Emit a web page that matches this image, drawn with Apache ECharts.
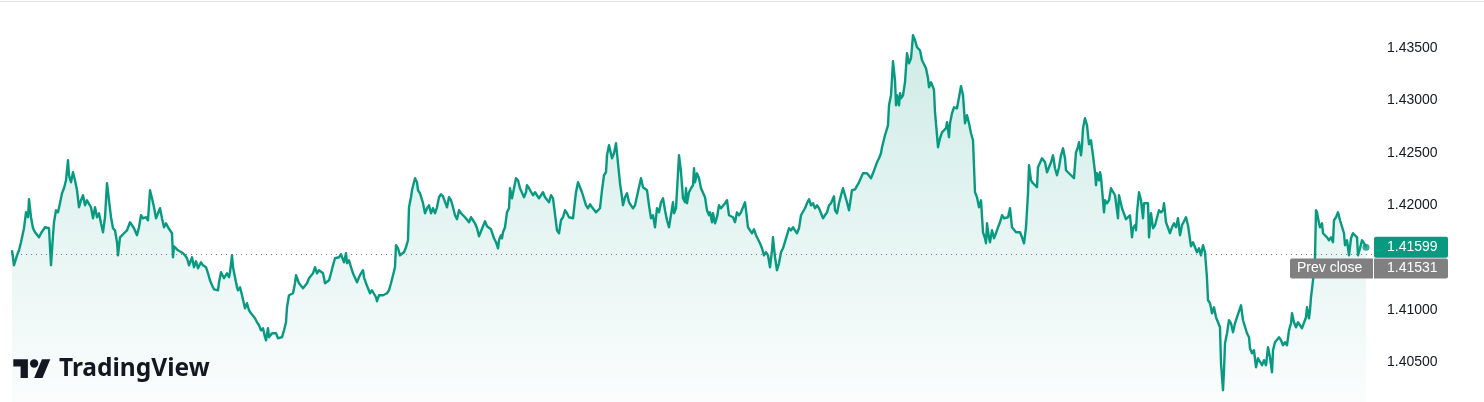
<!DOCTYPE html>
<html><head><meta charset="utf-8">
<script src="https://cdn.jsdelivr.net/npm/echarts@6/dist/echarts.min.js"></script>
<style>html,body{margin:0;padding:0;background:#ffffff;overflow:hidden}#chart{width:1484px;height:402px}</style>
</head><body><div id="chart"></div>
<script>
// [minute index, price]
const pricePoints = [
[0,1.41569],[2,1.41426],[5,1.41521],[7,1.41569],[9,1.41646],[11,1.41636],[12,1.41780],[14,1.41932],[16,1.41885],[17,1.42057],[19,1.41885],[21,1.41780],[23,1.41741],[25,1.41732],[27,1.41693],[29,1.41732],[31,1.41741],[33,1.41789],[35,1.41789],[37,1.41780],[39,1.41426],[41,1.41713],[42,1.41837],[44,1.41952],[46,1.41932],[48,1.42019],[50,1.42114],[52,1.42162],[54,1.42238],[56,1.42430],[57,1.42286],[59,1.42219],[61,1.42315],[63,1.42238],[65,1.42143],[67,1.41980],[69,1.42047],[71,1.42095],[73,1.41999],[75,1.42047],[77,1.42028],[79,1.41980],[81,1.41875],[83,1.41980],[85,1.41885],[87,1.41923],[89,1.41827],[91,1.41741],[93,1.41885],[95,1.42210],[97,1.42047],[99,1.41885],[101,1.41780],[103,1.41760],[105,1.41646],[106,1.41521],[108,1.41693],[110,1.41684],[112,1.41732],[115,1.41760],[118,1.41837],[120,1.41856],[122,1.41780],[125,1.41713],[127,1.41789],[129,1.41904],[131,1.41875],[134,1.41885],[136,1.41856],[138,1.42143],[140,1.42066],[142,1.41980],[144,1.41875],[146,1.41885],[148,1.41971],[150,1.41875],[152,1.41789],[154,1.41827],[156,1.41789],[158,1.41789],[160,1.41732],[161,1.41502],[162,1.41607],
[164,1.41607],[166,1.41569],[168,1.41588],[171,1.41541],[173,1.41521],[175,1.41493],[177,1.41426],[179,1.41474],[180,1.41502],[182,1.41407],[184,1.41464],[186,1.41397],[189,1.41454],[191,1.41426],[194,1.41407],[196,1.41349],[198,1.41282],[200,1.41235],[202,1.41196],[204,1.41206],[206,1.41187],[207,1.41263],[209,1.41359],[211,1.41359],[212,1.41302],[215,1.41349],[217,1.41311],[218,1.41359],[220,1.41521],[221,1.41407],[223,1.41311],[225,1.41215],[226,1.41187],[228,1.41215],[230,1.41139],[231,1.41158],[233,1.41015],[235,1.41063],[237,1.40996],[239,1.40967],[241,1.40948],[243,1.40919],[245,1.40881],[247,1.40852],[249,1.40804],[251,1.40824],[253,1.40738],[254,1.40709],[256,1.40824],[257,1.40738],[260,1.40776],[262,1.40785],[264,1.40776],[266,1.40728],[268,1.40738],[270,1.40738],[272,1.40804],[274,1.40881],[275,1.41024],[277,1.41139],[279,1.41120],[281,1.41158],[283,1.41254],[284,1.41330],[286,1.41311],[287,1.41254],[289,1.41235],[291,1.41206],[293,1.41215],[295,1.41254],[297,1.41302],[299,1.41311],[301,1.41349],[303,1.41407],[305,1.41349],[307,1.41378],[309,1.41397],[311,1.41349],[313,1.41254],[315,1.41263],[317,1.41282],[319,1.41349],[321,1.41426],[323,1.41493],[325,1.41474],[327,1.41502],[329,1.41531],[331,1.41541],
[332,1.41454],[334,1.41541],[335,1.41445],[337,1.41474],[339,1.41407],[341,1.41349],[343,1.41349],[345,1.41263],[347,1.41311],[349,1.41349],[351,1.41378],[352,1.41311],[354,1.41254],[356,1.41206],[358,1.41158],[360,1.41187],[362,1.41168],[364,1.41120],[365,1.41082],[367,1.41139],[369,1.41158],[371,1.41139],[373,1.41158],[375,1.41158],[377,1.41187],[379,1.41254],[381,1.41263],[383,1.41407],[384,1.41617],[386,1.41588],[388,1.41521],[390,1.41521],[392,1.41550],[394,1.41598],[396,1.41665],[397,1.41980],[399,1.42076],[400,1.42143],[401,1.42124],[403,1.42258],[405,1.42219],[406,1.42143],[408,1.42114],[410,1.42095],[411,1.42019],[413,1.41923],[415,1.41971],[417,1.41999],[419,1.41923],[421,1.41971],[423,1.41923],[425,1.41980],[427,1.42076],[429,1.42105],[431,1.42085],[433,1.42076],[435,1.41980],[437,1.42076],[439,1.42047],[441,1.41980],[443,1.41904],[445,1.41866],[447,1.41952],[449,1.41923],[451,1.41913],[453,1.41885],[455,1.41885],[457,1.41837],[459,1.41885],[461,1.41856],[463,1.41827],[465,1.41780],[467,1.41703],[469,1.41703],[471,1.41799],[473,1.41846],[475,1.41799],[477,1.41780],[479,1.41770],[481,1.41780],[482,1.41684],[484,1.41646],[486,1.41588],[487,1.41665],[489,1.41713],[490,1.41684],[491,1.41741],[493,1.41789],[495,1.41932],[497,1.41971],
[498,1.42162],[500,1.42066],[502,1.42162],[504,1.42258],[506,1.42238],[508,1.42162],[510,1.42143],[512,1.42076],[514,1.42124],[515,1.42191],[517,1.42162],[519,1.42172],[521,1.42095],[523,1.42124],[525,1.42095],[527,1.42066],[529,1.42095],[531,1.42124],[533,1.42076],[535,1.42085],[537,1.42028],[539,1.42095],[541,1.42066],[543,1.42047],[545,1.41760],[547,1.41732],[549,1.41856],[551,1.41885],[553,1.41952],[555,1.41923],[557,1.41885],[559,1.41885],[561,1.41875],[563,1.42047],[564,1.42124],[566,1.42219],[568,1.42172],[570,1.42124],[572,1.42143],[574,1.41999],[576,1.41971],[578,1.42009],[580,1.41980],[582,1.41961],[584,1.41932],[586,1.41913],[588,1.41971],[590,1.42143],[592,1.42286],[594,1.42315],[595,1.42477],[597,1.42573],[599,1.42583],[600,1.42449],[602,1.42497],[604,1.42592],[606,1.42401],[608,1.42210],[610,1.42076],[611,1.41999],[613,1.42076],[615,1.42114],[617,1.42028],[619,1.41999],[621,1.41971],[623,1.41999],[625,1.41980],[627,1.42172],[629,1.42258],[631,1.42172],[633,1.42191],[635,1.42143],[637,1.41999],[639,1.41875],[641,1.41904],[643,1.41789],[645,1.41971],[647,1.41932],[649,1.42028],[651,1.42066],[653,1.41952],[655,1.41856],[657,1.41789],[659,1.41780],[661,1.42028],[662,1.41923],[664,1.41971],[665,1.41952],[667,1.42477],[669,1.42315],[671,1.42066],[673,1.42028],[674,1.42162],[675,1.42019],[677,1.42124],[679,1.42162],[681,1.42191],[682,1.42353],[683,1.42219],[685,1.42305],[687,1.42258],[689,1.42162],[691,1.42162],[693,1.42076],[695,1.41952],[697,1.41904],[698,1.41932],[700,1.41837],[701,1.41923],[703,1.41827],[705,1.41885],[707,1.41999],[709,1.41971],[711,1.41971],[713,1.42019],[715,1.42047],[717,1.41904],[719,1.41923],[721,1.41885],[723,1.41837],[725,1.41932],[727,1.41904],[729,1.41932],[731,1.41980],[733,1.42028],[734,1.41952],[736,1.41789],[738,1.41760],[740,1.41732],[742,1.41770],[744,1.41713],[746,1.41732],[748,1.41636],[750,1.41588],[752,1.41521],[754,1.41550],[756,1.41521],[758,1.41407],[760,1.41569],[761,1.41693],[763,1.41502],[765,1.41378],[767,1.41445],[769,1.41550],[771,1.41588],[773,1.41598],[775,1.41713],[777,1.41780],[779,1.41760],[781,1.41789],[783,1.41760],[785,1.41732],[787,1.41780],[789,1.41904],[791,1.41923],[793,1.41971],[795,1.42019],[797,1.42057],[799,1.41999],[801,1.42019],[803,1.41971],[805,1.41999],[807,1.41971],[809,1.41990],[811,1.41875],[813,1.41904],[815,1.41932],[817,1.41999],[819,1.42019],[821,1.42019],[822,1.42085],[823,1.41952],[825,1.41923],[827,1.42019],[829,1.42095],[831,1.42162],[833,1.42095],[835,1.42028],[837,1.41952],
[840,1.42143],[843,1.42152],[845,1.42143],[847,1.42219],[849,1.42238],[851,1.42305],[853,1.42324],[855,1.42305],[857,1.42286],[859,1.42258],[861,1.42305],[863,1.42315],[865,1.42410],[867,1.42449],[869,1.42497],[870,1.42554],[872,1.42573],[873,1.42669],[875,1.42650],[876,1.42764],[877,1.42955],[879,1.43051],[880,1.43214],[881,1.43376],[883,1.43194],[884,1.42955],[885,1.43051],[887,1.42955],[888,1.43070],[889,1.43022],[891,1.43051],[892,1.43070],[893,1.43175],[895,1.43453],[896,1.43462],[897,1.43357],[899,1.43405],[900,1.43510],[901,1.43625],[903,1.43577],[904,1.43596],[905,1.43510],[907,1.43529],[908,1.43481],[910,1.43386],[912,1.43405],[914,1.43309],[916,1.43214],[917,1.43128],[919,1.43175],[921,1.43128],[922,1.43099],[923,1.42889],[925,1.42669],[926,1.42554],[928,1.42640],[930,1.42697],[932,1.42697],[934,1.42736],[935,1.42793],[937,1.42650],[938,1.42783],[940,1.42879],[942,1.42936],[944,1.42955],[945,1.42927],[947,1.43032],[949,1.43137],[951,1.43051],[953,1.42783],[955,1.42860],[957,1.42783],[959,1.42688],[961,1.42621],[963,1.42124],[965,1.42076],[967,1.41980],[969,1.42047],[971,1.41741],[973,1.41684],[974,1.41636],[975,1.41827],[977,1.41684],[978,1.41646],[980,1.41760],[982,1.41684],[984,1.41732],[986,1.41789],[988,1.41837],[990,1.41904],[992,1.41875],[994,1.41885],[996,1.41885],[998,1.41971],[1000,1.41789],[1002,1.41780],[1004,1.41741],[1006,1.41741],[1008,1.41741],[1010,1.41693],[1012,1.41636],
[1014,1.41789],[1016,1.42114],[1017,1.42382],[1019,1.42238],[1021,1.42210],[1023,1.42210],[1025,1.42172],[1026,1.42363],[1028,1.42382],[1030,1.42449],[1031,1.42458],[1033,1.42410],[1035,1.42315],[1037,1.42363],[1039,1.42410],[1041,1.42477],[1043,1.42353],[1045,1.42286],[1047,1.42363],[1049,1.42477],[1051,1.42544],[1053,1.42449],[1054,1.42334],[1056,1.42315],[1058,1.42296],[1060,1.42286],[1062,1.42258],[1064,1.42506],[1066,1.42554],[1067,1.42602],[1069,1.42477],[1070,1.42573],[1071,1.42736],[1073,1.42831],[1075,1.42764],[1076,1.42745],[1077,1.42583],[1079,1.42621],[1080,1.42544],[1081,1.42477],[1083,1.42315],[1084,1.42191],[1085,1.42305],[1087,1.42238],[1088,1.42315],[1089,1.42267],[1091,1.42047],[1092,1.41932],[1093,1.42047],[1095,1.42019],[1097,1.42047],[1099,1.42162],[1101,1.42172],[1103,1.42095],[1105,1.42076],[1106,1.41875],[1107,1.42095],[1109,1.42114],[1110,1.41971],[1112,1.41952],[1114,1.41866],[1116,1.41885],[1118,1.41904],[1120,1.41693],[1121,1.41780],[1123,1.41808],[1124,1.41760],[1125,1.41932],[1127,1.42124],[1129,1.42047],[1131,1.41875],[1132,1.42019],[1134,1.42019],[1136,1.42019],[1137,1.41693],[1139,1.41923],[1141,1.41780],[1143,1.41808],[1145,1.41789],[1147,1.41952],[1149,1.41932],[1151,1.41952],[1152,1.42019],[1154,1.41837],[1156,1.41827],[1158,1.41732],[1160,1.41789],[1162,1.41827],[1164,1.41789],[1166,1.41875],[1168,1.41713],[1170,1.41808],[1172,1.41789],[1174,1.41885],[1176,1.41808],[1178,1.41827],[1179,1.41607],
[1181,1.41646],[1183,1.41636],[1185,1.41550],[1187,1.41588],[1189,1.41521],[1191,1.41617],[1193,1.41550],[1195,1.41302],[1196,1.41091],[1198,1.41063],[1200,1.40967],[1202,1.41024],[1204,1.40929],[1206,1.40881],[1208,1.40833],[1209,1.40489],[1211,1.40231],[1212,1.40422],[1213,1.40680],[1215,1.40776],[1217,1.40900],[1219,1.40871],[1221,1.40785],[1223,1.40871],[1225,1.40929],[1227,1.40948],[1229,1.41043],[1231,1.40900],[1233,1.40919],[1235,1.40776],[1237,1.40738],[1238,1.40632],[1240,1.40585],[1242,1.40613],[1244,1.40451],[1246,1.40537],[1248,1.40518],[1250,1.40470],[1252,1.40518],[1254,1.40470],[1256,1.40642],[1258,1.40546],[1260,1.40403],[1261,1.40613],[1263,1.40690],[1265,1.40680],[1267,1.40738],[1269,1.40709],[1271,1.40661],[1273,1.40690],[1275,1.40661],[1277,1.40804],[1279,1.40871],[1280,1.40967],[1282,1.40881],[1284,1.40833],[1286,1.40881],[1288,1.40871],[1290,1.40824],[1292,1.40833],[1294,1.40929],[1295,1.41024],[1297,1.40919],[1298,1.40996],[1299,1.41120],[1301,1.41282],[1303,1.41502],[1304,1.41952],[1305,1.41932],[1307,1.41827],[1308,1.41789],[1310,1.41827],[1311,1.41732],[1313,1.41741],[1315,1.41693],[1317,1.41665],[1319,1.41693],[1321,1.41646],[1322,1.41856],[1324,1.41885],[1326,1.41932],[1328,1.41856],[1330,1.41837],[1332,1.41732],[1333,1.41617],[1335,1.41665],[1337,1.41521],[1339,1.41684],[1341,1.41732],[1343,1.41741],[1345,1.41693],[1346,1.41521],[1348,1.41588],[1350,1.41665],[1352,1.41636],[1354,1.41599]
];
const axisRange = [1.40, 1.44];
const axisStep = 0.005;
const hiddenTicks = [1.415];
const prevClose = 1.41531;
const lastPrice = 1.41599;
const prevCloseText = 'Prev close';
const brandText = 'TradingView';

const GREEN = '#089981';
const chart = echarts.init(document.getElementById('chart'), null, {renderer: 'canvas'});
const lastPoint = pricePoints[pricePoints.length - 1];

chart.setOption({
  animation: false,
  backgroundColor: '#ffffff',
  grid: {left: 12, right: 118, top: -4, bottom: -12.4, containLabel: false, outerBoundsMode: 'none'},
  xAxis: {type: 'value', min: 0, max: lastPoint[0], show: false},
  yAxis: {
    type: 'value', position: 'right', min: axisRange[0], max: axisRange[1], interval: axisStep,
    splitLine: {show: false}, axisLine: {show: false}, axisTick: {show: false},
    axisLabel: {
      showMinLabel: false, showMaxLabel: false, margin: 21, align: 'left',
      color: '#131722', fontFamily: 'Liberation Sans', fontSize: 14,
      formatter: v => hiddenTicks.some(h => Math.abs(h - v) < 1e-7) ? '' : v.toFixed(5)
    }
  },
  series: [{
    type: 'line', data: pricePoints, showSymbol: false, symbol: 'none',
    lineStyle: {color: GREEN, width: 2.4, join: 'round'}, z: 3,
    areaStyle: {
      origin: 'start',
      color: new echarts.graphic.LinearGradient(0, 0, 0, 1, [
        {offset: 0, color: 'rgba(8,153,129,0.28)'},
        {offset: 1, color: 'rgba(8,153,129,0.02)'}
      ])
    }
  }, {
    type: 'scatter', data: [lastPoint], symbolSize: 7, z: 4,
    itemStyle: {color: GREEN}, silent: true
  }]
});

const yLast = chart.convertToPixel({yAxisIndex: 0}, lastPrice);
const yPrev = chart.convertToPixel({yAxisIndex: 0}, prevClose);
const xStart = chart.convertToPixel({xAxisIndex: 0}, pricePoints[0][0]);
const boxH = 21;
const lastTop = yLast - boxH / 2;
const prevTop = lastTop + boxH + 0.8;
const labelFont = '14px "Liberation Sans"';
const yDot = Math.round(yPrev) + 0.5;

chart.setOption({
  graphic: [
    {type: 'rect', shape: {x: 0, y: 1, width: 1484, height: 1}, style: {fill: '#e0e3eb'}, z: 10, silent: true},
    {type: 'line', shape: {x1: xStart - 1, y1: yDot, x2: 1374, y2: yDot}, style: {stroke: '#787b86', lineWidth: 1, lineDash: [1, 4]}, z: 5, silent: true},
    {type: 'rect', shape: {x: 1374, y: lastTop, width: 74, height: boxH, r: 2}, style: {fill: GREEN}, z: 10},
    {type: 'text', x: 1387, y: lastTop + boxH / 2, style: {text: lastPrice.toFixed(5), fill: '#ffffff', font: labelFont, verticalAlign: 'middle'}, z: 11},
    {type: 'rect', shape: {x: 1290, y: prevTop, width: 83, height: 20, r: [2, 0, 0, 2]}, style: {fill: '#808080'}, z: 10},
    {type: 'text', x: 1297, y: prevTop + 10, style: {text: prevCloseText, fill: '#ffffff', font: labelFont, verticalAlign: 'middle'}, z: 11},
    {type: 'rect', shape: {x: 1374, y: prevTop, width: 74, height: 20, r: [0, 2, 2, 0]}, style: {fill: '#808080'}, z: 10},
    {type: 'text', x: 1387, y: prevTop + 10, style: {text: prevClose.toFixed(5), fill: '#ffffff', font: labelFont, verticalAlign: 'middle'}, z: 11},
    {type: 'group', x: 13.3, y: 359.3 - 4 * 1.044, scaleX: 1.042, scaleY: 1.044, z: 10, children: [
      {type: 'polygon', shape: {points: [[14, 22], [7, 22], [7, 11], [0, 11], [0, 4], [14, 4]]}, style: {fill: '#131722'}, z: 10},
      {type: 'polygon', shape: {points: [[28, 22], [20, 22], [27.5, 4], [35.5, 4]]}, style: {fill: '#131722'}, z: 10},
      {type: 'circle', shape: {cx: 20, cy: 8, r: 4}, style: {fill: '#131722'}, z: 10}
    ]},
    {type: 'text', x: 59, y: 369, style: {text: brandText, fill: '#131722', font: 'bold 24.5px "Noto Sans"', verticalAlign: 'middle'}, z: 10}
  ]
});
</script>
</body></html>
